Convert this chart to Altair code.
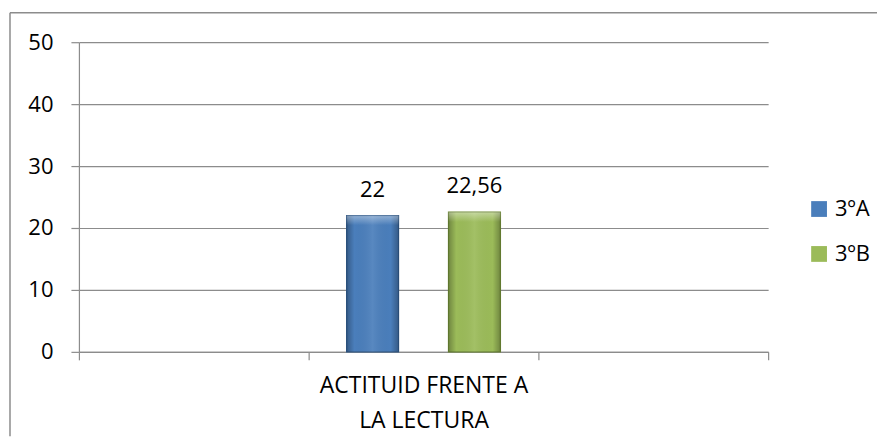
import altair as alt
import pandas as pd

categories = [" ", "ACTITUID FRENTE A LA LECTURA", "  "]
groups = ["3ºA", "3ºB"]
values = [22, 22.56]
value_labels = ["22", "22,56"]
colors = ["#4A7EBB", "#9BBB59"]
strokes = ["#2F5A8C", "#6E8A35"]

df = pd.DataFrame({
    "cat": [categories[1]] * len(groups),
    "grupo": groups,
    "valor": values,
    "etiqueta": value_labels,
})

FONT = "Open Sans"
GRAY = "#8C8C8C"

x_enc = alt.X("cat:N", scale=alt.Scale(domain=categories, paddingInner=0, paddingOuter=0),
              axis=alt.Axis(title=None, labelAngle=0, tickBand="extent", grid=False,
                            labelExpr="datum.value == 'ACTITUID FRENTE A LA LECTURA' ? ['ACTITUID FRENTE A', 'LA LECTURA'] : ''",
                            labelLineHeight=35, labelPadding=15, labelFontSize=23, labelLimit=500))
xo_enc = alt.XOffset("grupo:N", scale=alt.Scale(domain=groups, paddingInner=0.49, paddingOuter=0.3725))
y_enc = alt.Y("valor:Q", scale=alt.Scale(domain=[0, 50]),
              axis=alt.Axis(title=None, values=[0, 10, 20, 30, 40, 50], labelPadding=18,
                            labelFontSize=22))

base = alt.Chart(df).encode(x=x_enc, xOffset=xo_enc, y=y_enc)

bars = base.mark_bar(strokeWidth=1.2).encode(
    color=alt.Color("grupo:N", scale=alt.Scale(domain=groups, range=colors),
                    legend=alt.Legend(title=None, orient="none", legendX=730, legendY=156,
                                      symbolType="square", symbolSize=250, symbolStrokeWidth=0,
                                      labelFontSize=22, labelOffset=5, rowPadding=23, padding=0)),
    stroke=alt.Stroke("grupo:N", scale=alt.Scale(domain=groups, range=strokes), legend=None),
)

shade = base.mark_bar(
    color=alt.LinearGradient(
        gradient="linear", x1=0, x2=1, y1=0, y2=0,
        stops=[alt.GradientStop(color="rgba(0,0,0,0.28)", offset=0),
               alt.GradientStop(color="rgba(0,0,0,0)", offset=0.15),
               alt.GradientStop(color="rgba(255,255,255,0.08)", offset=0.5),
               alt.GradientStop(color="rgba(0,0,0,0)", offset=0.85),
               alt.GradientStop(color="rgba(0,0,0,0.28)", offset=1)]))

top_light = base.mark_bar(
    color=alt.LinearGradient(
        gradient="linear", x1=0, x2=0, y1=0, y2=1,
        stops=[alt.GradientStop(color="rgba(255,255,255,0.4)", offset=0),
               alt.GradientStop(color="rgba(255,255,255,0.0)", offset=0.07),
               alt.GradientStop(color="rgba(255,255,255,0.0)", offset=1)]))

labels = base.mark_text(baseline="bottom", dy=-14, fontSize=22, font=FONT, color="#000000").encode(
    text="etiqueta:N")

frame_df = pd.DataFrame({"k": [0]})
left_rule = alt.Chart(frame_df).mark_rule(color=GRAY, strokeWidth=1.5).encode(
    x=alt.value(-69), y=alt.value(-29.5), y2=alt.value(394.5))
top_rule = alt.Chart(frame_df).mark_rule(color=GRAY, strokeWidth=1.5).encode(
    x=alt.value(-69), x2=alt.value(799), y=alt.value(-29.5))

chart = alt.layer(bars, shade, top_light, labels, left_rule, top_rule).properties(
    width=690, height=310,
    padding={"left": 1, "top": 3, "right": 0, "bottom": 0},
).configure_view(stroke=None).configure_axis(
    domainColor=GRAY, tickColor=GRAY, gridColor=GRAY, tickSize=8,
    labelFont=FONT, labelColor="#000000", domainWidth=1.2, gridWidth=1.2, tickWidth=1.2,
).configure_legend(labelFont=FONT, labelColor="#000000")

chart.save("out.html", embed_options={"renderer": "svg", "actions": False})
